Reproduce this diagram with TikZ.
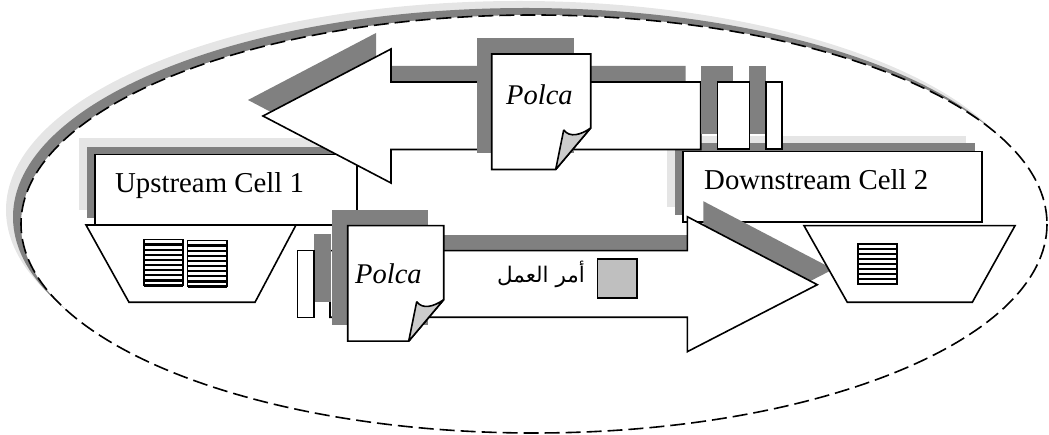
\documentclass[tikz,border=0pt]{standalone}
\usepackage{fontspec}
\setmainfont{Liberation Serif}
\newfontfamily\arabicfont[Script=Arabic]{DejaVu Sans}
\TeXXeTstate=1
\definecolor{darkshade}{gray}{.5}
\definecolor{lightshade}{gray}{.9}
\definecolor{foldgray}{gray}{.8}
\definecolor{squaregray}{gray}{.75}
\tikzset{
  outline/.style={draw=black,fill=white,line width=1.6pt,line join=miter},
  foldline/.style={draw=black,fill=foldgray,line width=1.6pt,line join=bevel},
  shadedark/.style={fill=darkshade},
  shadelight/.style={fill=lightshade},
  label/.style={inner sep=0pt,font=\fontsize{28.8}{30}\selectfont,anchor=base west},
  polcalabel/.style={label,font=\fontsize{28.5}{30}\selectfont\itshape}
}
\newcommand{\note}[1]{+(0,0) -- +(#1,0) -- +(#1,74) -- +(#1-35,115.5) -- +(0,115.5) -- cycle}
\newcommand{\fold}{-- ++(8,-39.5) .. controls +(6,8) and +(-10,7) .. ++(27,-2) -- cycle}
\newcommand{\stripes}[4]{% x, y, height, rows
  \draw[black,line width=1.6pt,fill=white] (#1,#2) rectangle +(39.5,#3);
  \foreach \k in {1,...,#4} \draw[black,line width=2.4pt] (#1,#2+\k*#3/#4) -- +(39.5,0);
}
\begin{document}
\begin{tikzpicture}[x=1pt,y=-1pt]
\useasboundingbox (0,0) rectangle (1049,435);
\def\arrowback{(263,116) -- (391,49) -- (391,82) -- (700.7,82) -- (700.7,149.5) -- (391,149.5) -- (391,183) -- cycle}
\def\arrowfwd{(817.3,284.7) -- (687.3,216.7) -- (687.3,250.7) -- (330,250.7) -- (330,317.3) -- (687.3,317.3) -- (687.3,351.7) -- cycle}
% boundary
\fill[shadelight] (519,210) ellipse [x radius=513,y radius=209];
\fill[shadedark] (526,217) ellipse [x radius=513,y radius=209];
\draw[fill=white,line width=1.6pt,dash pattern=on 15pt off 6pt] (534,224) ellipse [x radius=513,y radius=209];
% cells
\fill[shadelight] (79,138) rectangle (341,210);
\fill[shadedark] (87,147) rectangle (349,218);
\draw[outline] (95,154.5) rectangle (357,225);
\fill[shadelight] (666.7,136) rectangle (966,206.7);
\fill[shadedark] (674.7,143.3) rectangle (975,215);
\draw[outline] (682.7,151.7) rectangle (981.7,222.3);
\node[label] (upcell) at (115,193) {Upstream Cell 1};
\node[label] (downcell) at (704,190) {Downstream Cell 2};
% forward arrow
\fill[shadedark,shift={(16,-15.5)}] \arrowfwd;
\draw[outline] \arrowfwd;
% backward arrow
\fill[shadedark,shift={(-15,-16)}] \arrowback;
\draw[outline] \arrowback;
% supermarkets
\draw[outline] (86,225) -- (296,225) -- (255,302.3) -- (129,302.3) -- cycle;
\draw[outline] (804,225.7) -- (1015,225.7) -- (972.3,302.3) -- (847.3,302.3) -- cycle;
\stripes{143.7}{239.5}{46}{9}
\stripes{187.5}{240.5}{46}{9}
\stripes{857.7}{244}{40}{8}
% cards
\fill[shadedark] (700.7,66) rectangle +(32.6,68);
\fill[shadedark] (749.3,66) rectangle +(16.7,68);
\draw[outline] (717.3,82) rectangle (749.3,149);
\draw[outline] (765.7,82) rectangle (781.7,149);
\fill[shadedark] (313.7,234) rectangle +(17,67.7);
\draw[outline] (297.5,250.7) rectangle (314,317.7);
% polca notes
\fill[shadedark] (476.7,38) rectangle +(97.5,115);
\draw[outline] (491.7,54) \note{99};
\path[foldline] (555.7,169.5) \fold;
\node[polcalabel] (polcatop) at (506,105) {Polca};
\fill[shadedark] (332.3,210) rectangle +(95.4,115.3);
\draw[outline] (347.7,225.7) \note{96};
\path[foldline] (408.7,341.2) \fold;
\node[polcalabel] (polcabottom) at (355,284) {Polca};
% work order
\node[inner sep=0pt,anchor=base,font=\fontsize{21.5}{24}\arabicfont] (order) at (541,283) {\beginR أمر العمل\endR};
\draw[black,fill=squaregray,line width=1.6pt] (597.3,259.3) rectangle (636.7,298.3);
\end{tikzpicture}
\end{document}
